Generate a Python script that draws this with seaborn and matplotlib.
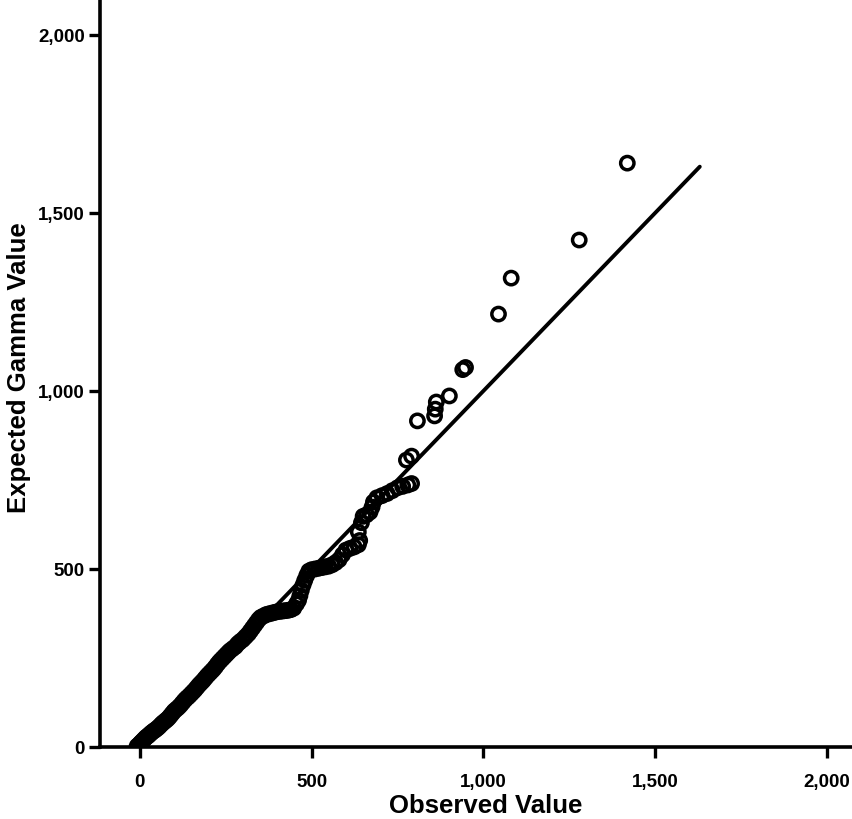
import matplotlib
matplotlib.use("Agg")
import matplotlib.pyplot as plt
import seaborn as sns
import pandas as pd
from matplotlib.ticker import FuncFormatter

# Q-Q plot: observed values against expected gamma quantiles
observed = [
    -8, -4, 0, 3, 6, 10, 14, 18, 22, 26, 30, 35, 40, 45, 50, 55, 60, 65, 70, 75,
    80, 85, 90, 95, 100, 106, 112, 118, 124, 130, 136, 142, 148, 154, 160, 166,
    172, 178, 184, 190, 196, 202, 208, 214, 220, 226, 232, 238, 244, 250, 256, 262,
    270, 278, 285, 292, 300, 308, 316, 322, 328, 334, 340, 346, 352, 360, 368, 376,
    384, 392, 400, 408, 416, 424, 432, 440, 448, 456, 462, 466, 470, 475, 480, 486,
    492, 500, 510, 520, 530, 540, 550, 560, 570, 580, 590, 600, 612, 624, 636, 640,
    636, 645, 650, 660, 670, 676, 680, 690, 705, 720, 735, 750, 765, 780, 791,
    776, 791, 808, 858, 860, 863, 901, 940, 948, 1044, 1081, 1279, 1419,
]
expected = [
    2, 5, 9, 12, 15, 19, 23, 27, 30, 33, 37, 41, 45, 48, 52, 56, 61, 66, 70, 74,
    78, 83, 89, 95, 101, 106, 111, 117, 124, 131, 137, 142, 148, 154, 160, 167,
    174, 180, 186, 193, 200, 206, 212, 218, 225, 233, 240, 246, 252, 258, 264, 270,
    276, 282, 290, 296, 302, 310, 318, 326, 334, 342, 350, 358, 364, 368, 372, 374,
    376, 378, 380, 381, 382, 383, 384, 386, 390, 402, 412, 425, 440, 455, 468, 482,
    494, 498, 500, 502, 504, 506, 508, 512, 518, 526, 540, 553, 558, 562, 568, 580,
    604, 630, 648, 652, 660, 674, 688, 700, 706, 712, 720, 728, 732, 736, 740,
    806, 817, 916, 930, 949, 969, 986, 1060, 1066, 1216, 1317, 1424, 1640,
]

# reference line y = x
line_x = [-25, 1630]
line_y = [-25, 1630]

x_ticks = [0, 500, 1000, 1500, 2000]
y_ticks = [0, 500, 1000, 1500, 2000]

points = pd.DataFrame({"Observed Value": observed, "Expected Gamma Value": expected})
ref = pd.DataFrame({"x": line_x, "y": line_y})

sns.set_style("white")
plt.rcParams["font.family"] = ["Liberation Sans", "DejaVu Sans"]
plt.rcParams["text.color"] = "black"
plt.rcParams["xtick.color"] = "black"
plt.rcParams["ytick.color"] = "black"
plt.rcParams["axes.labelcolor"] = "black"

fig = plt.figure(figsize=(8.53, 8.20), dpi=100)
ax = fig.add_axes([100 / 853, 72 / 820, 1 - 100 / 853, 748 / 820])

sns.lineplot(data=ref, x="x", y="y", ax=ax, color="black", linewidth=2.8,
             sort=False, legend=False)
sns.scatterplot(data=points, x="Observed Value", y="Expected Gamma Value", ax=ax,
                marker="o", s=92, facecolors="none", edgecolor="black",
                linewidth=2.5, legend=False, zorder=3)

ax.set_xlim(-116, 2076)
ax.set_ylim(0, 2101)
ax.set_xticks(x_ticks)
ax.set_yticks(y_ticks)
fmt = FuncFormatter(lambda v, p: f"{int(v):,}")
ax.xaxis.set_major_formatter(fmt)
ax.yaxis.set_major_formatter(fmt)

ax.tick_params(axis="both", direction="out", length=8, width=2.4, color="black",
               labelsize=13.5, bottom=True, left=True)
ax.tick_params(axis="x", pad=11)
ax.tick_params(axis="y", pad=3)
for lab in ax.get_xticklabels() + ax.get_yticklabels():
    lab.set_fontweight("bold")

ax.set_xlabel("Observed Value", fontsize=18.5, fontweight="bold")
ax.set_ylabel("Expected Gamma Value", fontsize=18.5, fontweight="bold")
ax.xaxis.set_label_coords((486 - 100) / 753, -(806 - 748) / 748)
ax.yaxis.set_label_coords(-(100 - 19) / 753, (748 - 368) / 748)
ax.xaxis.label.set_verticalalignment("center")
ax.yaxis.label.set_verticalalignment("center")

for side in ("left", "bottom"):
    ax.spines[side].set_linewidth(2.6)
    ax.spines[side].set_color("black")
ax.spines["top"].set_linewidth(1.2)
ax.spines["top"].set_color("black")
ax.spines["right"].set_visible(False)

fig.savefig("out.png", dpi=100)
